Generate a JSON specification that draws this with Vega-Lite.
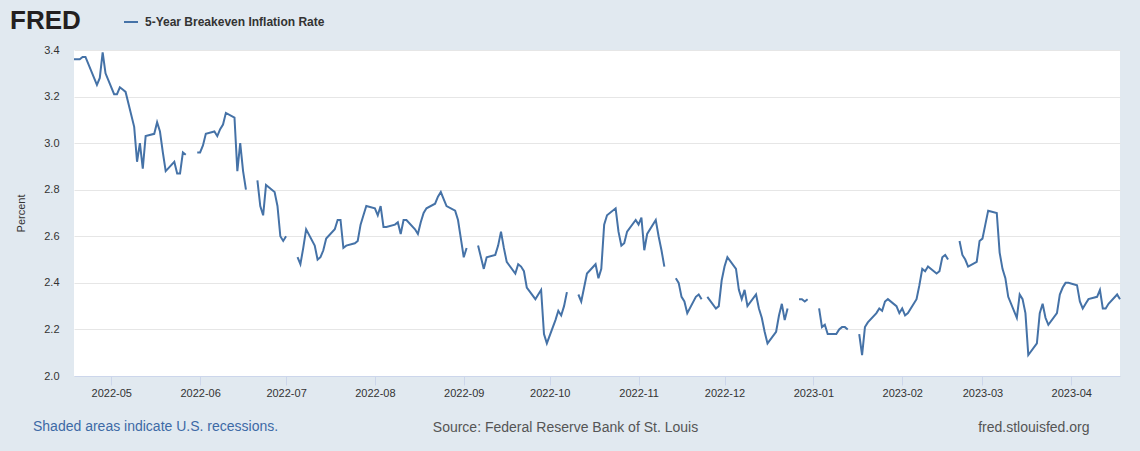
{
  "$schema": "https://vega.github.io/schema/vega-lite/v6.json",
  "width": 1046,
  "height": 326,
  "autosize": {"type": "none"},
  "padding": {"left": 74, "top": 50, "right": 20, "bottom": 75},
  "background": "#e1e9f0",
  "title": {
    "text": "Shaded areas indicate U.S. recessions.",
    "orient": "bottom",
    "anchor": "start",
    "frame": "group",
    "dx": -41,
    "offset": -14,
    "font": "Liberation Sans",
    "fontSize": 14,
    "fontWeight": "normal",
    "color": "#3d6aa6"
  },
  "data": {
    "values": [
      {"date": "2022-04-18", "rate": 3.36}, {"date": "2022-04-19", "rate": 3.36}, {"date": "2022-04-20", "rate": 3.36},
      {"date": "2022-04-21", "rate": 3.37}, {"date": "2022-04-22", "rate": 3.37}, {"date": "2022-04-25", "rate": 3.28},
      {"date": "2022-04-26", "rate": 3.25}, {"date": "2022-04-27", "rate": 3.28}, {"date": "2022-04-28", "rate": 3.39},
      {"date": "2022-04-29", "rate": 3.30}, {"date": "2022-05-02", "rate": 3.21}, {"date": "2022-05-03", "rate": 3.21},
      {"date": "2022-05-04", "rate": 3.24}, {"date": "2022-05-05", "rate": 3.23}, {"date": "2022-05-06", "rate": 3.22},
      {"date": "2022-05-09", "rate": 3.07}, {"date": "2022-05-10", "rate": 2.92}, {"date": "2022-05-11", "rate": 3.00},
      {"date": "2022-05-12", "rate": 2.89}, {"date": "2022-05-13", "rate": 3.03}, {"date": "2022-05-16", "rate": 3.04},
      {"date": "2022-05-17", "rate": 3.09}, {"date": "2022-05-18", "rate": 3.05}, {"date": "2022-05-19", "rate": 2.96},
      {"date": "2022-05-20", "rate": 2.88}, {"date": "2022-05-23", "rate": 2.92}, {"date": "2022-05-24", "rate": 2.87},
      {"date": "2022-05-25", "rate": 2.87}, {"date": "2022-05-26", "rate": 2.96}, {"date": "2022-05-27", "rate": 2.95},
      {"date": "2022-05-30", "rate": null},
      {"date": "2022-05-31", "rate": 2.96}, {"date": "2022-06-01", "rate": 2.96}, {"date": "2022-06-02", "rate": 2.99},
      {"date": "2022-06-03", "rate": 3.04}, {"date": "2022-06-06", "rate": 3.05}, {"date": "2022-06-07", "rate": 3.03},
      {"date": "2022-06-08", "rate": 3.06}, {"date": "2022-06-09", "rate": 3.08}, {"date": "2022-06-10", "rate": 3.13},
      {"date": "2022-06-13", "rate": 3.11}, {"date": "2022-06-14", "rate": 2.88}, {"date": "2022-06-15", "rate": 3.00},
      {"date": "2022-06-16", "rate": 2.88}, {"date": "2022-06-17", "rate": 2.80},
      {"date": "2022-06-20", "rate": null},
      {"date": "2022-06-21", "rate": 2.84}, {"date": "2022-06-22", "rate": 2.73}, {"date": "2022-06-23", "rate": 2.69},
      {"date": "2022-06-24", "rate": 2.82}, {"date": "2022-06-27", "rate": 2.79}, {"date": "2022-06-28", "rate": 2.73},
      {"date": "2022-06-29", "rate": 2.60}, {"date": "2022-06-30", "rate": 2.58}, {"date": "2022-07-01", "rate": 2.60},
      {"date": "2022-07-04", "rate": null},
      {"date": "2022-07-05", "rate": 2.51}, {"date": "2022-07-06", "rate": 2.48}, {"date": "2022-07-07", "rate": 2.55},
      {"date": "2022-07-08", "rate": 2.63}, {"date": "2022-07-11", "rate": 2.56}, {"date": "2022-07-12", "rate": 2.50},
      {"date": "2022-07-13", "rate": 2.51}, {"date": "2022-07-14", "rate": 2.54}, {"date": "2022-07-15", "rate": 2.59},
      {"date": "2022-07-18", "rate": 2.63}, {"date": "2022-07-19", "rate": 2.67}, {"date": "2022-07-20", "rate": 2.67},
      {"date": "2022-07-21", "rate": 2.55}, {"date": "2022-07-22", "rate": 2.56}, {"date": "2022-07-25", "rate": 2.57},
      {"date": "2022-07-26", "rate": 2.58}, {"date": "2022-07-27", "rate": 2.65}, {"date": "2022-07-28", "rate": 2.69},
      {"date": "2022-07-29", "rate": 2.73}, {"date": "2022-08-01", "rate": 2.72}, {"date": "2022-08-02", "rate": 2.69},
      {"date": "2022-08-03", "rate": 2.73}, {"date": "2022-08-04", "rate": 2.64}, {"date": "2022-08-05", "rate": 2.64},
      {"date": "2022-08-08", "rate": 2.65}, {"date": "2022-08-09", "rate": 2.66}, {"date": "2022-08-10", "rate": 2.61},
      {"date": "2022-08-11", "rate": 2.67}, {"date": "2022-08-12", "rate": 2.67}, {"date": "2022-08-15", "rate": 2.63},
      {"date": "2022-08-16", "rate": 2.61}, {"date": "2022-08-17", "rate": 2.66}, {"date": "2022-08-18", "rate": 2.70},
      {"date": "2022-08-19", "rate": 2.72}, {"date": "2022-08-22", "rate": 2.74}, {"date": "2022-08-23", "rate": 2.77},
      {"date": "2022-08-24", "rate": 2.79}, {"date": "2022-08-25", "rate": 2.76}, {"date": "2022-08-26", "rate": 2.73},
      {"date": "2022-08-29", "rate": 2.71}, {"date": "2022-08-30", "rate": 2.67}, {"date": "2022-08-31", "rate": 2.59},
      {"date": "2022-09-01", "rate": 2.51}, {"date": "2022-09-02", "rate": 2.55},
      {"date": "2022-09-05", "rate": null},
      {"date": "2022-09-06", "rate": 2.56}, {"date": "2022-09-07", "rate": 2.51}, {"date": "2022-09-08", "rate": 2.46},
      {"date": "2022-09-09", "rate": 2.51}, {"date": "2022-09-12", "rate": 2.52}, {"date": "2022-09-13", "rate": 2.56},
      {"date": "2022-09-14", "rate": 2.62}, {"date": "2022-09-15", "rate": 2.55}, {"date": "2022-09-16", "rate": 2.49},
      {"date": "2022-09-19", "rate": 2.44}, {"date": "2022-09-20", "rate": 2.48}, {"date": "2022-09-21", "rate": 2.47},
      {"date": "2022-09-22", "rate": 2.45}, {"date": "2022-09-23", "rate": 2.38}, {"date": "2022-09-26", "rate": 2.33},
      {"date": "2022-09-27", "rate": 2.35}, {"date": "2022-09-28", "rate": 2.37}, {"date": "2022-09-29", "rate": 2.18},
      {"date": "2022-09-30", "rate": 2.14}, {"date": "2022-10-03", "rate": 2.24}, {"date": "2022-10-04", "rate": 2.28},
      {"date": "2022-10-05", "rate": 2.26}, {"date": "2022-10-06", "rate": 2.30}, {"date": "2022-10-07", "rate": 2.36},
      {"date": "2022-10-10", "rate": null},
      {"date": "2022-10-11", "rate": 2.35}, {"date": "2022-10-12", "rate": 2.32}, {"date": "2022-10-13", "rate": 2.38},
      {"date": "2022-10-14", "rate": 2.44}, {"date": "2022-10-17", "rate": 2.48}, {"date": "2022-10-18", "rate": 2.42},
      {"date": "2022-10-19", "rate": 2.46}, {"date": "2022-10-20", "rate": 2.65}, {"date": "2022-10-21", "rate": 2.69},
      {"date": "2022-10-24", "rate": 2.72}, {"date": "2022-10-25", "rate": 2.62}, {"date": "2022-10-26", "rate": 2.56},
      {"date": "2022-10-27", "rate": 2.57}, {"date": "2022-10-28", "rate": 2.62}, {"date": "2022-10-31", "rate": 2.67},
      {"date": "2022-11-01", "rate": 2.65}, {"date": "2022-11-02", "rate": 2.68}, {"date": "2022-11-03", "rate": 2.54},
      {"date": "2022-11-04", "rate": 2.61}, {"date": "2022-11-07", "rate": 2.67}, {"date": "2022-11-08", "rate": 2.60},
      {"date": "2022-11-09", "rate": 2.54}, {"date": "2022-11-10", "rate": 2.47},
      {"date": "2022-11-11", "rate": null},
      {"date": "2022-11-14", "rate": 2.42}, {"date": "2022-11-15", "rate": 2.40}, {"date": "2022-11-16", "rate": 2.34},
      {"date": "2022-11-17", "rate": 2.32}, {"date": "2022-11-18", "rate": 2.27}, {"date": "2022-11-21", "rate": 2.34},
      {"date": "2022-11-22", "rate": 2.35}, {"date": "2022-11-23", "rate": 2.33},
      {"date": "2022-11-24", "rate": null},
      {"date": "2022-11-25", "rate": 2.34}, {"date": "2022-11-28", "rate": 2.29}, {"date": "2022-11-29", "rate": 2.30},
      {"date": "2022-11-30", "rate": 2.41}, {"date": "2022-12-01", "rate": 2.47}, {"date": "2022-12-02", "rate": 2.51},
      {"date": "2022-12-05", "rate": 2.46}, {"date": "2022-12-06", "rate": 2.37}, {"date": "2022-12-07", "rate": 2.33},
      {"date": "2022-12-08", "rate": 2.37}, {"date": "2022-12-09", "rate": 2.30}, {"date": "2022-12-12", "rate": 2.35},
      {"date": "2022-12-13", "rate": 2.29}, {"date": "2022-12-14", "rate": 2.25}, {"date": "2022-12-15", "rate": 2.19},
      {"date": "2022-12-16", "rate": 2.14}, {"date": "2022-12-19", "rate": 2.19}, {"date": "2022-12-20", "rate": 2.26},
      {"date": "2022-12-21", "rate": 2.31}, {"date": "2022-12-22", "rate": 2.24}, {"date": "2022-12-23", "rate": 2.29},
      {"date": "2022-12-26", "rate": null},
      {"date": "2022-12-27", "rate": 2.33}, {"date": "2022-12-28", "rate": 2.33}, {"date": "2022-12-29", "rate": 2.32},
      {"date": "2022-12-30", "rate": 2.33},
      {"date": "2023-01-02", "rate": null},
      {"date": "2023-01-03", "rate": 2.29}, {"date": "2023-01-04", "rate": 2.21}, {"date": "2023-01-05", "rate": 2.22},
      {"date": "2023-01-06", "rate": 2.18}, {"date": "2023-01-09", "rate": 2.18}, {"date": "2023-01-10", "rate": 2.20},
      {"date": "2023-01-11", "rate": 2.21}, {"date": "2023-01-12", "rate": 2.21}, {"date": "2023-01-13", "rate": 2.20},
      {"date": "2023-01-16", "rate": null},
      {"date": "2023-01-17", "rate": 2.18}, {"date": "2023-01-18", "rate": 2.09}, {"date": "2023-01-19", "rate": 2.21},
      {"date": "2023-01-20", "rate": 2.23}, {"date": "2023-01-23", "rate": 2.27}, {"date": "2023-01-24", "rate": 2.29},
      {"date": "2023-01-25", "rate": 2.28}, {"date": "2023-01-26", "rate": 2.32}, {"date": "2023-01-27", "rate": 2.33},
      {"date": "2023-01-30", "rate": 2.30}, {"date": "2023-01-31", "rate": 2.27}, {"date": "2023-02-01", "rate": 2.29},
      {"date": "2023-02-02", "rate": 2.26}, {"date": "2023-02-03", "rate": 2.27}, {"date": "2023-02-06", "rate": 2.33},
      {"date": "2023-02-07", "rate": 2.39}, {"date": "2023-02-08", "rate": 2.46}, {"date": "2023-02-09", "rate": 2.45},
      {"date": "2023-02-10", "rate": 2.47}, {"date": "2023-02-13", "rate": 2.44}, {"date": "2023-02-14", "rate": 2.45},
      {"date": "2023-02-15", "rate": 2.51}, {"date": "2023-02-16", "rate": 2.52}, {"date": "2023-02-17", "rate": 2.50},
      {"date": "2023-02-20", "rate": null},
      {"date": "2023-02-21", "rate": 2.58}, {"date": "2023-02-22", "rate": 2.52}, {"date": "2023-02-23", "rate": 2.50},
      {"date": "2023-02-24", "rate": 2.47}, {"date": "2023-02-27", "rate": 2.49}, {"date": "2023-02-28", "rate": 2.58},
      {"date": "2023-03-01", "rate": 2.59}, {"date": "2023-03-02", "rate": 2.65}, {"date": "2023-03-03", "rate": 2.71},
      {"date": "2023-03-06", "rate": 2.70}, {"date": "2023-03-07", "rate": 2.53}, {"date": "2023-03-08", "rate": 2.46},
      {"date": "2023-03-09", "rate": 2.42}, {"date": "2023-03-10", "rate": 2.34}, {"date": "2023-03-13", "rate": 2.25},
      {"date": "2023-03-14", "rate": 2.35}, {"date": "2023-03-15", "rate": 2.33}, {"date": "2023-03-16", "rate": 2.27},
      {"date": "2023-03-17", "rate": 2.09}, {"date": "2023-03-20", "rate": 2.14}, {"date": "2023-03-21", "rate": 2.27},
      {"date": "2023-03-22", "rate": 2.31}, {"date": "2023-03-23", "rate": 2.25}, {"date": "2023-03-24", "rate": 2.22},
      {"date": "2023-03-27", "rate": 2.27}, {"date": "2023-03-28", "rate": 2.35}, {"date": "2023-03-29", "rate": 2.38},
      {"date": "2023-03-30", "rate": 2.40}, {"date": "2023-03-31", "rate": 2.40}, {"date": "2023-04-03", "rate": 2.39},
      {"date": "2023-04-04", "rate": 2.32}, {"date": "2023-04-05", "rate": 2.29}, {"date": "2023-04-06", "rate": 2.31},
      {"date": "2023-04-07", "rate": 2.33}, {"date": "2023-04-10", "rate": 2.34}, {"date": "2023-04-11", "rate": 2.37},
      {"date": "2023-04-12", "rate": 2.29}, {"date": "2023-04-13", "rate": 2.29}, {"date": "2023-04-14", "rate": 2.31},
      {"date": "2023-04-17", "rate": 2.35}, {"date": "2023-04-18", "rate": 2.33}
    ],
    "format": {"parse": {"date": "utc:'%Y-%m-%d'"}}
  },
  "mark": {"type": "line", "strokeWidth": 2, "interpolate": "linear"},
  "encoding": {
    "x": {
      "field": "date",
      "type": "temporal",
      "scale": {
        "type": "utc",
        "nice": false,
        "domain": [
          {"year": 2022, "month": 4, "date": 18, "utc": true},
          {"year": 2023, "month": 4, "date": 18, "utc": true}
        ]
      },
      "axis": {
        "labelExpr": "utcFormat(datum.value, '%Y-%m')",
        "tickCount": {"interval": "month", "step": 1},
        "grid": false,
        "domainColor": "#ccd6eb",
        "tickColor": "#ccd6eb",
        "tickSize": 9,
        "labelPadding": 2,
        "labelFont": "Liberation Sans",
        "labelFontSize": 11,
        "labelColor": "#333333",
        "labelFlush": false,
        "labelOverlap": false,
        "title": "Source: Federal Reserve Bank of St. Louis\u00a0\u00a0\u00a0\u00a0\u00a0\u00a0\u00a0\u00a0\u00a0\u00a0\u00a0\u00a0\u00a0\u00a0\u00a0\u00a0\u00a0\u00a0\u00a0\u00a0\u00a0\u00a0\u00a0\u00a0\u00a0\u00a0\u00a0\u00a0\u00a0\u00a0\u00a0\u00a0\u00a0\u00a0\u00a0\u00a0\u00a0\u00a0\u00a0\u00a0\u00a0\u00a0\u00a0\u00a0\u00a0\u00a0\u00a0\u00a0\u00a0\u00a0\u00a0\u00a0\u00a0\u00a0\u00a0\u00a0\u00a0\u00a0\u00a0\u00a0\u00a0\u00a0\u00a0\u00a0\u00a0\u00a0\u00a0\u00a0\u00a0\u00a0\u00a0\u00a0fred.stlouisfed.org",
        "titleX": 1015,
        "titleY": 55,
        "titleAlign": "right",
        "titleBaseline": "alphabetic",
        "titleFont": "Liberation Sans",
        "titleFontSize": 14,
        "titleFontWeight": "normal",
        "titleColor": "#555555"
      }
    },
    "y": {
      "field": "rate",
      "type": "quantitative",
      "scale": {"domain": [2, 3.4], "nice": false, "zero": false},
      "axis": {
        "title": "Percent",
        "values": [2, 2.2, 2.4, 2.6, 2.8, 3, 3.2, 3.4],
        "format": ".1f",
        "domain": false,
        "ticks": false,
        "tickSize": 0,
        "labelPadding": 15,
        "labelFont": "Liberation Sans",
        "labelFontSize": 11,
        "labelColor": "#333333",
        "gridColor": "#e6e6e6",
        "gridWidth": 1,
        "titleFont": "Liberation Sans",
        "titleFontSize": 11,
        "titleFontWeight": "normal",
        "titleColor": "#333333",
        "titlePadding": 17
      }
    },
    "color": {
      "datum": "5-Year Breakeven Inflation Rate",
      "type": "nominal",
      "scale": {"range": ["#4572a7"]},
      "legend": {
        "orient": "none",
        "legendX": -64,
        "legendY": -36,
        "padding": 0,
        "title": "FRED",
        "titleOrient": "left",
        "titleFont": "Liberation Sans",
        "titleFontSize": 26,
        "titleFontWeight": 900,
        "titleColor": "#231f20",
        "titlePadding": 42,
        "labelFont": "Liberation Sans",
        "labelFontSize": 12,
        "labelFontWeight": "bold",
        "labelColor": "#333333",
        "labelLimit": 400,
        "labelOffset": 6,
        "symbolType": "stroke",
        "symbolSize": 196,
        "symbolStrokeWidth": 2
      }
    }
  },
  "config": {
    "view": {"fill": "white", "stroke": null}
  }
}
